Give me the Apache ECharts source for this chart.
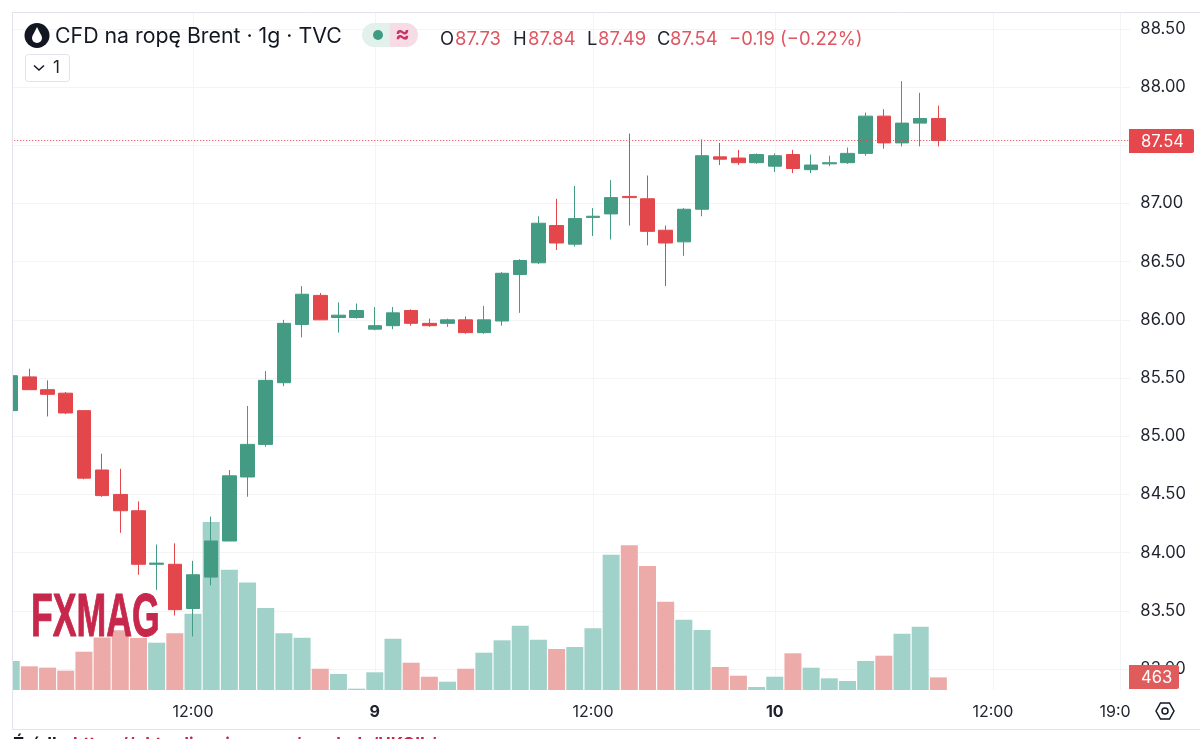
<!DOCTYPE html>
<html><head><meta charset="utf-8">
<style>html,body{margin:0;padding:0;background:#fff;overflow:hidden}#c{width:1200px;height:739px}</style>
<script src="https://cdn.jsdelivr.net/npm/echarts@6/dist/echarts.min.js"></script>
</head><body><div id="c"></div>
<script>
// open, close, low, high for each hourly bar
const candles = [
[85.22,85.52,85.22,85.52],[85.51,85.40,85.40,85.58],[85.40,85.36,85.17,85.48],[85.37,85.20,85.19,85.38],
[85.22,84.64,84.63,85.22],[84.71,84.49,84.48,84.85],[84.50,84.36,84.17,84.72],[84.36,83.90,83.81,84.44],
[83.90,83.91,83.68,84.07],[83.90,83.51,83.46,84.08],[83.52,83.81,83.28,83.93],[83.79,84.10,83.72,84.31],
[84.10,84.66,84.10,84.71],[84.65,84.93,84.48,85.26],[84.93,85.48,84.91,85.56],[85.46,85.97,85.43,86.00],
[85.96,86.22,85.85,86.29],[86.21,86.00,86.00,86.23],[86.02,86.04,85.89,86.15],[86.02,86.08,86.01,86.14],
[85.92,85.95,85.91,86.11],[85.95,86.06,85.92,86.11],[86.08,85.97,85.95,86.09],[85.97,85.95,85.94,86.01],
[85.97,86.00,85.94,86.01],[86.00,85.89,85.88,86.03],[85.89,86.00,85.88,86.12],[85.99,86.40,85.95,86.41],
[86.39,86.51,86.06,86.52],[86.49,86.83,86.48,86.89],[86.81,86.66,86.60,87.04],[86.65,86.87,86.63,87.15],
[86.88,86.89,86.72,86.96],[86.91,87.05,86.69,87.20],[87.06,87.05,86.81,87.60],[87.04,86.76,86.64,87.24],
[86.77,86.66,86.29,86.81],[86.67,86.95,86.55,86.96],[86.95,87.41,86.89,87.55],[87.40,87.38,87.33,87.52],
[87.39,87.35,87.33,87.46],[87.35,87.42,87.34,87.43],[87.32,87.41,87.27,87.43],[87.42,87.30,87.26,87.46],
[87.29,87.33,87.26,87.42],[87.34,87.35,87.32,87.41],[87.35,87.43,87.34,87.48],[87.43,87.75,87.41,87.78],
[87.75,87.52,87.47,87.81],[87.52,87.69,87.49,88.05],[87.69,87.73,87.49,87.95],[87.73,87.54,87.49,87.84]
];
const volumes = [1064,870,820,710,1405,1930,2190,1910,1736,2080,2800,6165,4415,3950,3010,2080,1920,782,587,48,650,1883,1002,488,305,782,1369,1824,2360,1846,1505,1578,2264,4966,5310,4551,3241,2580,2202,844,525,110,488,1347,818,429,330,1064,1259,2066,2323,463];
const timeLabels = ['','','','','','','','','','','12:00','','','','','','','','','','9','','','','','','','','','','','','12:00','','','','','','','','','','10','','','','','','','','','','','','12:00','','','','','','','19:00',''];
const priceTicks = [83,83.5,84,84.5,85,85.5,86,86.5,87,87.5,88,88.5];
const titleText = 'CFD na ropę Brent · 1g · TVC';
const ohlcLetters = ['O','H','L','C'];
const ohlcValues = ['87.73','87.84','87.49','87.54'];
const changeText = '−0.19 (−0.22%)';
const sourceLabel = 'Źródło:';
const sourceLink = 'https://pl.tradingview.com/symbols/UKOIL/';

const FONT = 'Inter, "Noto Sans", sans-serif';
const GREEN='#439B83', RED='#E3474C', VGREEN='#A1D2CA', VRED='#ECABA8', GRID='#F3F4F6', INK='#1E222D', TEXTRED='#DF5561';
const lastClose = candles[candles.length-1][1], lastVol = volumes[volumes.length-1];

const chart = echarts.init(document.getElementById('c'));
const gridSpec = {left:11.2, top:13, width:18.18*62, height:677, containLabel:false};
chart.setOption({
  animation:false,
  backgroundColor:'#fff',
  grid:gridSpec,
  xAxis:{type:'category',data:timeLabels,boundaryGap:false,
    axisLine:{show:false},axisTick:{show:false},
    splitLine:{show:true,interval:(i,v)=>v!=='',lineStyle:{color:GRID,width:1}},
    axisLabel:{interval:(i,v)=>v!=='',margin:14,fontFamily:FONT,fontSize:16,color:INK,
      formatter:v=>/:/.test(v)?v:'{b|'+v+'}',rich:{b:{fontWeight:700,fontFamily:FONT,fontSize:16,color:INK}}}},
  yAxis:[
    {type:'value',min:82.82,max:88.636,position:'right',axisLine:{show:false},axisTick:{show:false,customValues:priceTicks},
      axisLabel:{show:false,customValues:priceTicks},splitLine:{show:true,lineStyle:{color:GRID,width:1}}},
    {type:'value',min:82.82,max:88.636,position:'right',z:10,axisLine:{show:false},axisTick:{show:false,customValues:priceTicks},
      splitLine:{show:false},
      axisLabel:{customValues:priceTicks,margin:2,padding:[2,0,0,0],fontFamily:FONT,fontSize:16.6,color:INK,formatter:v=>v.toFixed(2)}},
    {type:'value',min:0,max:24850,show:false,splitLine:{show:false}}
  ],
  series:[
    {type:'bar',yAxisIndex:2,z:1,barWidth:17,
      data:volumes.map((v,i)=>({value:v,itemStyle:{color:candles[i][1]>=candles[i][0]?VGREEN:VRED}}))},
    {type:'candlestick',yAxisIndex:0,z:2,barWidth:14,data:candles,
      itemStyle:{color:GREEN,color0:RED,borderColor:GREEN,borderColor0:RED,borderWidth:1},
      markLine:{silent:true,symbol:'none',label:{show:false},
        lineStyle:{color:'#E5474D',type:[1,2],width:1},data:[{yAxis:lastClose}]}}
  ]
});
const yP = chart.convertToPixel({yAxisIndex:0},lastClose);
const yV = chart.convertToPixel({yAxisIndex:2},lastVol);

const txt=(x,y,s,o)=>({type:'text',z:o&&o.z||30,x,y,style:Object.assign({text:s,fontFamily:FONT,fontSize:18.4,fill:INK,verticalAlign:'middle',align:'left'},o&&o.style)});
const els=[
  {type:'rect',z:5,shape:{x:1130,y:13,width:70,height:716},style:{fill:'#fff'}},
  {type:'rect',z:5,shape:{x:0,y:0,width:12,height:739},style:{fill:'#fff'}},
  {type:'line',z:6,shape:{x1:12.5,y1:12.5,x2:1200,y2:12.5},style:{stroke:'#E0E3EB',lineWidth:1}},
  {type:'line',z:6,shape:{x1:12.5,y1:12.5,x2:12.5,y2:729.5},style:{stroke:'#E0E3EB',lineWidth:1}},
  {type:'line',z:6,shape:{x1:12.5,y1:729.5,x2:1200,y2:729.5},style:{stroke:'#E0E3EB',lineWidth:1}},
  // logo
  {type:'text',z:7,x:31,y:619,scaleX:0.585,style:{text:'FXMAG',fontFamily:'"Liberation Sans",sans-serif',fontWeight:700,fontSize:61,fill:'#C7274A',stroke:'#C7274A',lineWidth:1,verticalAlign:'middle',align:'left'}},
  // symbol icon
  {type:'circle',z:30,shape:{cx:37,cy:35.5,r:12.5},style:{fill:'#131722'}},
  {type:'circle',z:31,shape:{cx:37,cy:38,r:5},style:{fill:'#fff'}},
  {type:'polygon',z:31,shape:{points:[[37,27],[32.6,35.8],[41.4,35.8]]},style:{fill:'#fff'}},
  txt(55,37,titleText,{style:{fontSize:21.3,fill:'#131722'}}),
  // status pill
  {type:'rect',z:30,shape:{x:362,y:23,width:30,height:24,r:[12,0,0,12]},style:{fill:'#E3F1EC'}},
  {type:'rect',z:30,shape:{x:390,y:23,width:28,height:24,r:[0,12,12,0]},style:{fill:'#F6DDE5'}},
  {type:'circle',z:31,shape:{cx:378,cy:35,r:5},style:{fill:'#3F9C84'}},
  txt(395,34.5,'≈',{style:{fontSize:22,fontWeight:700,fill:'#CC3366'}}),
  // collapse button
  {type:'rect',z:30,shape:{x:25.5,y:54.5,width:44,height:27,r:3},style:{fill:'#fff',stroke:'#E0E3EB',lineWidth:1}},
  {type:'polyline',z:31,shape:{points:[[34,65.5],[39,70],[44,65.5]]},style:{fill:'none',stroke:'#131722',lineWidth:1.5}},
  txt(53,68,'1',{style:{fontSize:17}}),
  // settings icon
  {type:'polygon',z:30,shape:{points:[[1156,711],[1160.5,703],[1169.5,703],[1174,711],[1169.5,719],[1160.5,719]]},style:{fill:'none',stroke:'#131722',lineWidth:1.5}},
  {type:'circle',z:30,shape:{cx:1165,cy:711,r:3},style:{fill:'none',stroke:'#131722',lineWidth:1.5}},
  // price tag
  {type:'rect',z:20,shape:{x:1129,y:Math.round(yP)-12,width:65,height:24,r:[0,2,2,0]},style:{fill:'#E5474D'}},
  txt(1141,Math.round(yP)+0.5,lastClose.toFixed(2),{z:21,style:{fontSize:16.6,fill:'#fff'}}),
  // volume tag
  {type:'rect',z:20,shape:{x:1129,y:Math.round(yV)-12,width:50,height:24,r:[0,2,2,0]},style:{fill:'#E05C5C'}},
  txt(1141,Math.round(yV)+0.5,String(lastVol),{z:21,style:{fontSize:16.6,fill:'#fff'}}),
  // source line
  txt(13,745,sourceLabel,{style:{fontSize:17,fontWeight:700,fill:'#131722'}}),
  txt(73,745,sourceLink,{style:{fontSize:17,fontWeight:700,fill:'#C7274A'}}),
  txt(729,39,changeText,{style:{fill:TEXTRED}})
];
const letterX=[440,513,587,657], valueX=[455,528,598,670];
ohlcLetters.forEach((l,i)=>{els.push(txt(letterX[i],39,l));els.push(txt(valueX[i],39,ohlcValues[i],{style:{fill:TEXTRED}}));});
chart.setOption({graphic:{elements:els}});
</script></body></html>
